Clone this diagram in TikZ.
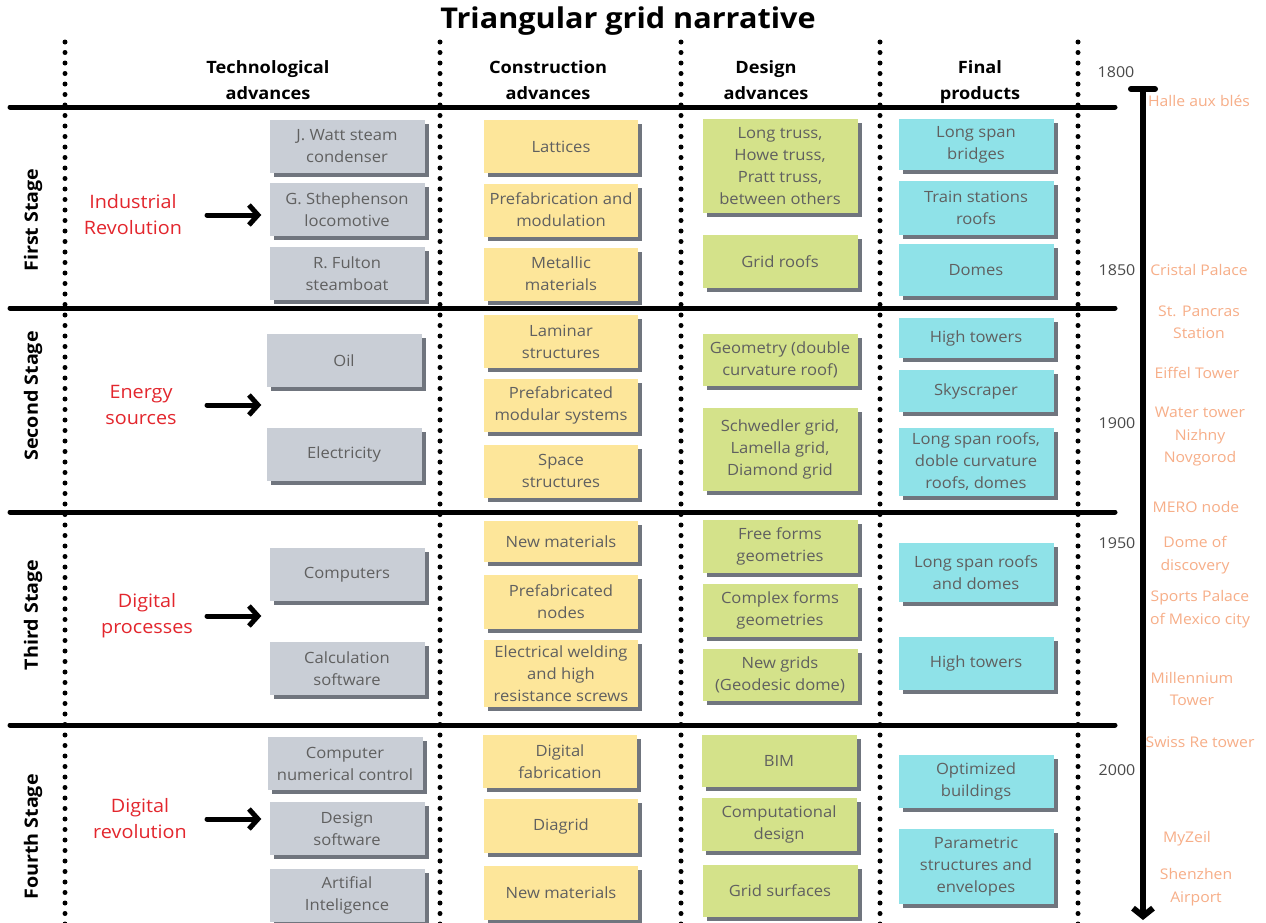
\documentclass[tikz,border=0pt]{standalone}
\usepackage{fontspec}
\setmainfont{Open Sans}[FakeStretch=1.07]
\usepackage{xcolor}
\usetikzlibrary{arrows.meta,shadows}
\definecolor{techgray}{HTML}{C9CED6}
\definecolor{consyellow}{HTML}{FDE69A}
\definecolor{desgreen}{HTML}{D4E28A}
\definecolor{prodcyan}{HTML}{8FE2E8}
\definecolor{boxshadow}{HTML}{70757E}
\definecolor{boxtext}{HTML}{606060}
\definecolor{eventred}{HTML}{E3262D}
\definecolor{landmark}{HTML}{F7AE88}
\definecolor{yeargray}{HTML}{4A4A4A}

\begin{document}
\begin{tikzpicture}[x=1pt,y=-1pt,
   bx/.style={minimum width=155pt,minimum height=53pt,align=center,inner sep=2pt,
             text=boxtext,font=\fontsize{15.5}{22}\selectfont,
             general shadow={fill=boxshadow,shadow xshift=4pt,shadow yshift=-4pt}},
   tec/.style={bx,fill=techgray},
   con/.style={bx,fill=consyellow,minimum width=154pt},
   des/.style={bx,fill=desgreen},
   fin/.style={bx,fill=prodcyan},
   head/.style={align=center,font=\fontsize{17}{26}\selectfont\bfseries},
   stage/.style={rotate=90,font=\fontsize{18.4}{20}\selectfont\bfseries},
   event/.style={align=center,text=eventred,font=\fontsize{18.5}{26}\selectfont},
   year/.style={text=yeargray,font=\fontsize{15}{18}\selectfont},
   place/.style={align=center,text=landmark,font=\fontsize{14.7}{22.5}\selectfont},
   dots/.style={line width=5pt,line cap=round,dash pattern=on 0pt off 10.5pt},
   sep/.style={line width=5pt,line cap=round},
   arr/.style={line width=5pt,line cap=round,-{Straight Barb[length=9pt,width=20pt]}}]
  \useasboundingbox[fill=white] (0,0) rectangle (1266,922);

  \node[font=\fontsize{28.6}{32}\selectfont\bfseries] (title) at (628,21) {Triangular grid narrative};

  % grid
  \foreach \x in {65,440,681,880,1078}
    \draw[dots] (\x,42) -- (\x,925);
  \foreach \y in {107,308,512,725}
    \draw[sep] (10,\y) -- (1115,\y);

  % column heads
  \node[head] (h1) at (268,80) {Technological\\advances};
  \node[head] (h2) at (548,80) {Construction\\advances};
  \node[head] (h3) at (766,80) {Design\\advances};
  \node[head] (h4) at (980,82) {Final\\products};

  % stages
  \node[stage] (s1) at (33,220) {First Stage};
  \node[stage] (s2) at (33,396) {Second Stage};
  \node[stage] (s3) at (33,615) {Third Stage};
  \node[stage] (s4) at (33,837) {Fourth Stage};

  \node[event] (r1) at (133,215) {Industrial\\Revolution};
  \node[event] (r2) at (141,405) {Energy\\sources};
  \node[event] (r3) at (147,616) {Digital\\processes};
  \node[event] (r4) at (140,819) {Digital\\revolution};

  % technological advances
  \node[tec] (t11) at (347,146.5) {J. Watt steam\\condenser};
  \node[tec] (t12) at (347,209.5) {G. Sthephenson\\locomotive};
  \node[tec] (t13) at (347,273.5) {R. Fulton\\steamboat};
  \node[tec] (t21) at (344,360.5) {Oil};
  \node[tec] (t22) at (344,454.5) {Electricity};
  \node[tec] (t31) at (347,574.5) {Computers};
  \node[tec] (t32) at (347,668.5) {Calculation\\software};
  \node[tec] (t41) at (345,763.5) {Computer\\numerical control};
  \node[tec] (t42) at (347,828.5) {Design\\software};
  \node[tec] (t43) at (347,895.5) {Artifial\\Inteligence};

  % construction advances
  \node[con] (c11) at (561,146.5) {Lattices};
  \node[con] (c12) at (561,210) {Prefabrication and\\modulation};
  \node[con] (c13) at (561,274) {Metallic\\materials};
  \node[con] (c21) at (561,341.5) {Laminar\\structures};
  \node[con] (c22) at (561,405.5) {Prefabricated\\modular systems};
  \node[con] (c23) at (561,471) {Space\\structures};
  \node[con,minimum height=41pt] (c31) at (561,541.5) {New materials};
  \node[con,minimum height=54pt] (c32) at (561,602) {Prefabricated\\nodes};
  \node[con,minimum height=67pt] (c33) at (561,673.5) {Electrical welding\\and high\\resistance screws};
  \node[con] (c41) at (560,761.5) {Digital\\fabrication};
  \node[con,minimum height=54pt] (c42) at (561,826) {Diagrid};
  \node[con,minimum height=54pt] (c43) at (561,893) {New materials};

  % design advances
  \node[des,minimum height=94pt] (d11) at (780,166) {Long truss,\\Howe truss,\\Pratt truss,\\between others};
  \node[des] (d12) at (780,261.5) {Grid roofs};
  \node[des,minimum height=52pt] (d21) at (780,360) {Geometry (double\\curvature roof)};
  \node[des,minimum height=83pt] (d22) at (780,449.5) {Schwedler grid,\\Lamella grid,\\Diamond grid};
  \node[des] (d31) at (780,546.5) {Free forms\\geometries};
  \node[des] (d32) at (780,610.5) {Complex forms\\geometries};
  \node[des,minimum height=52pt] (d33) at (780,675) {New grids\\(Geodesic dome)};
  \node[des,minimum height=52pt] (d41) at (779,761) {BIM};
  \node[des] (d42) at (779,824.5) {Computational\\design};
  \node[des,minimum height=52pt] (d43) at (780,891) {Grid surfaces};

  % final products
  \node[fin,minimum height=51pt] (f11) at (976,144.5) {Long span\\bridges};
  \node[fin,minimum height=54pt] (f12) at (976,208) {Train stations\\roofs};
  \node[fin,minimum height=52pt] (f13) at (976,270) {Domes};
  \node[fin,minimum height=40pt] (f21) at (976,338) {High towers};
  \node[fin,minimum height=42pt] (f22) at (976,391) {Skyscraper};
  \node[fin,minimum height=68pt] (f23) at (976,462) {Long span roofs,\\doble curvature\\roofs, domes};
  \node[fin,minimum height=59pt] (f31) at (976,572.5) {Long span roofs\\and domes};
  \node[fin] (f32) at (976,663.5) {High towers};
  \node[fin] (f41) at (976,781.5) {Optimized\\buildings};
  \node[fin,minimum height=75pt] (f42) at (976,866.5) {Parametric\\structures and\\envelopes};

  % arrows
  \coordinate (ax) at (207,0);
  \draw[arr] (r1.center -| ax) -- ([xshift=-8pt]r1.center -| t12.west);
  \draw[arr] (r2.center -| ax) -- ([xshift=-5pt]r2.center -| t21.west);
  \draw[arr] (r3.center -| ax) -- ([xshift=-8pt]r3.center -| t31.west);
  \draw[arr] (r4.center -| ax) -- ([xshift=-8pt]r4.center -| t42.west);

  % timeline
  \coordinate (tltop) at (1143,86);
  \coordinate (tlend) at (1143,920);
  \draw[line width=6pt,{Bar[width=24pt,line cap=round]}-{Straight Barb[length=8pt,width=20pt]}] (tltop) -- (tlend);
  \node[year] (y1800) at (1116,72) {1800};
  \node[year] (y1850) at (1117,270) {1850};
  \node[year] (y1900) at (1117,423) {1900};
  \node[year] (y1950) at (1117,543) {1950};
  \node[year] (y2000) at (1117,770) {2000};

  \node[place] (p1) at (1199,101) {Halle aux blés};
  \node[place] (p2) at (1199,270) {Cristal Palace};
  \node[place] (p3) at (1199,322) {St. Pancras\\Station};
  \node[place] (p4) at (1197,373) {Eiffel Tower};
  \node[place] (p5) at (1200,437) {Water tower\\Nizhny\\Novgorod};
  \node[place] (p6) at (1196,507) {MERO node};
  \node[place] (p7) at (1195,555) {Dome of\\discovery};
  \node[place] (p8) at (1200,609) {Sports Palace\\of Mexico city};
  \node[place] (p9) at (1192,689) {Millennium\\Tower};
  \node[place] (p10) at (1200,742) {Swiss Re tower};
  \node[place] (p11) at (1187,839) {MyZeil};
  \node[place] (p12) at (1196,887) {Shenzhen\\Airport};
\end{tikzpicture}
\end{document}
